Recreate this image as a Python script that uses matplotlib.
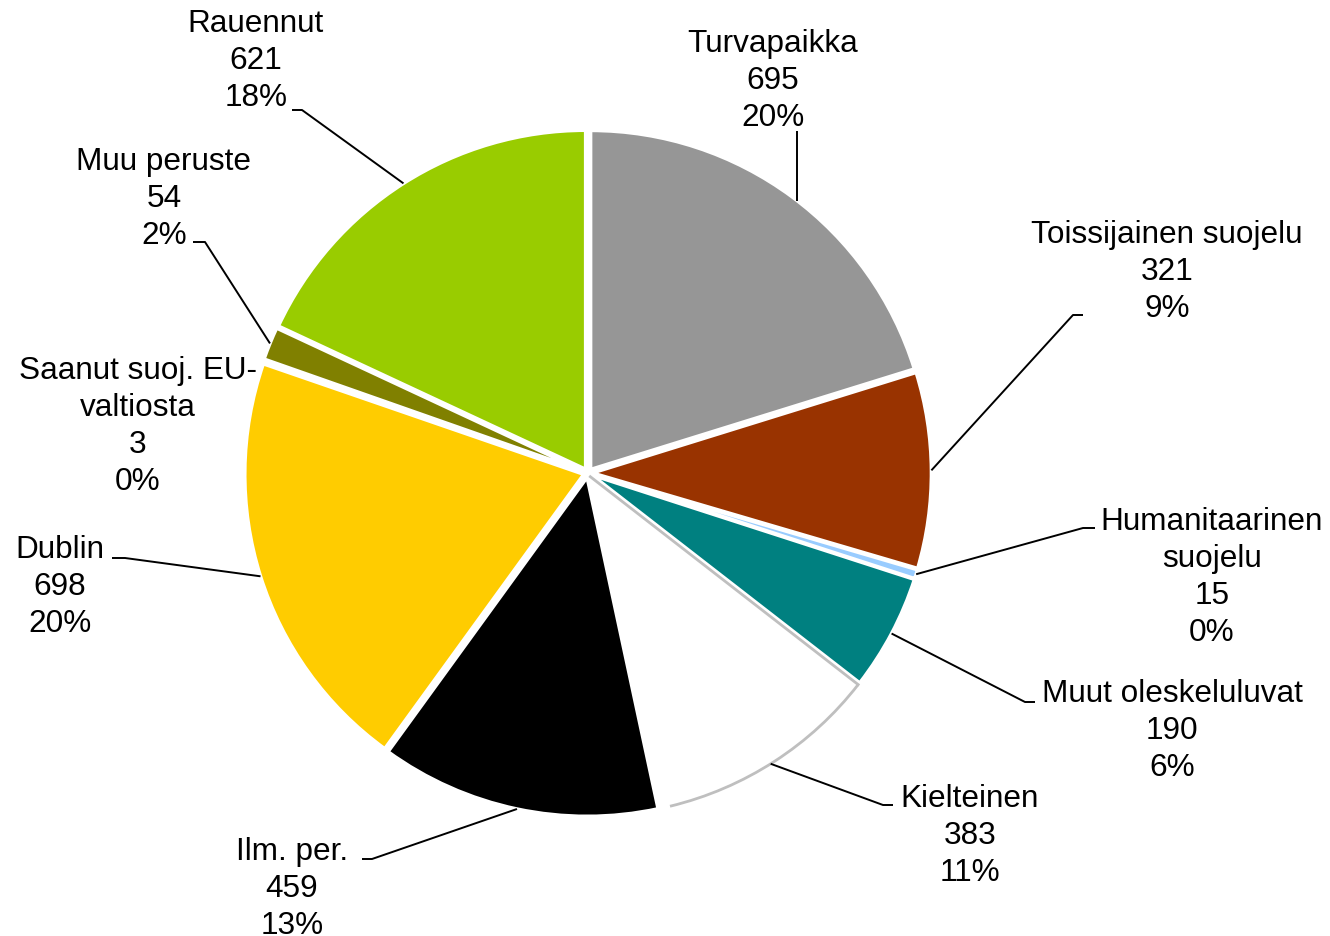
import numpy as np
import matplotlib
matplotlib.use("Agg")
import matplotlib.pyplot as plt
from matplotlib.patches import Arc

plt.rcParams['font.family'] = ['Liberation Sans', 'DejaVu Sans']

# ---- data ----
categories = ["Turvapaikka", "Toissijainen suojelu", "Humanitaarinen\nsuojelu",
              "Muut oleskeluluvat", "Kielteinen", "Ilm. per.", "Dublin",
              "Saanut suoj. EU-\nvaltiosta", "Muu peruste", "Rauennut"]
values = [695, 321, 15, 190, 383, 459, 698, 3, 54, 621]
colors = ["#969696", "#993300", "#99CCFF", "#008080", "#FFFFFF", "#000000",
          "#FFCC00", "#FF9900", "#808000", "#99CC00"]

# ---- layout (pixels, y from top) ----
W, H = 1330, 937
CX, CY, R = 588, 474, 339
label_xy = [(773, 52), (1167, 243), (1212, 530), (1172, 702), (970, 807),
            (292, 860), (60, 558), (138, 379), (164, 170), (256, 32)]
# leader start points (label side) and stub points; None = no leader
leader_start = [(797, 132), (1083, 316), (1095, 529), (1035, 703), (893, 806),
                (362, 860), (112, 559), None, (193, 243), (292, 111)]
leader_stub = [None, (1073, 316), (1083, 529), (1025, 703), (883, 806),
               (372, 860), (125, 559), None, (205, 243), (302, 111)]
LINE_H = 37
EXPLODE = 0.013
FS = 22.7


def px(p):
    return ((p[0] - CX) / R, (CY - p[1]) / R)


fig = plt.figure(figsize=(W / 100, H / 100), dpi=100)
ax = fig.add_axes([0, 0, 1, 1])
wedges, _ = ax.pie(values, colors=colors, startangle=90, counterclock=False,
                   explode=[EXPLODE] * len(values),
                   wedgeprops=dict(edgecolor="white", linewidth=2.5))
for w, c in zip(wedges, colors):
    if c == "#FFFFFF":
        w.set_edgecolor("white")
        w.set_zorder(0.5)
        t_hi = max(w.theta1, w.theta2)
        t_lo = min(w.theta1, w.theta2)
        wx, wy = w.center
        ax.add_patch(Arc((wx, wy), 2 * w.r, 2 * w.r, theta1=t_lo + 1.5, theta2=t_hi,
                         color="#BFBFBF", linewidth=2.0, zorder=2))
        ax.plot([wx, wx + w.r * np.cos(np.deg2rad(t_hi))],
                [wy, wy + w.r * np.sin(np.deg2rad(t_hi))],
                color="#BFBFBF", linewidth=2.0, zorder=2)

ax.set_xlim(-CX / R, (W - CX) / R)
ax.set_ylim((CY - H) / R, CY / R)
ax.set_aspect("auto")
ax.axis("off")

total = sum(values)
for i, (cat, v) in enumerate(zip(categories, values)):
    lines = cat.split("\n") + [f"{v}", f"{v / total * 100:.0f}%"]
    lx, ly = label_xy[i]
    for k, line in enumerate(lines):
        x, y = px((lx, ly + k * LINE_H))
        ax.text(x, y, line, ha="center", va="baseline", fontsize=FS, color="black")

    if leader_start[i] is None:
        continue
    w = wedges[i]
    mid = np.deg2rad((w.theta1 + w.theta2) / 2)
    c0x, c0y = w.center
    s = px(leader_start[i])
    if leader_stub[i] is None:
        # vertical leader down to the arc
        ex = s[0]
        ey = c0y + np.sqrt(max(w.r ** 2 - (ex - c0x) ** 2, 0))
        pts = [s, (ex, ey)]
    else:
        ex = c0x + w.r * np.cos(mid)
        ey = c0y + w.r * np.sin(mid)
        pts = [s, px(leader_stub[i]), (ex, ey)]
    xs, ys = zip(*pts)
    ax.plot(xs, ys, color="black", linewidth=1.4, solid_capstyle="butt", zorder=3)

fig.savefig("out.png", dpi=100)
